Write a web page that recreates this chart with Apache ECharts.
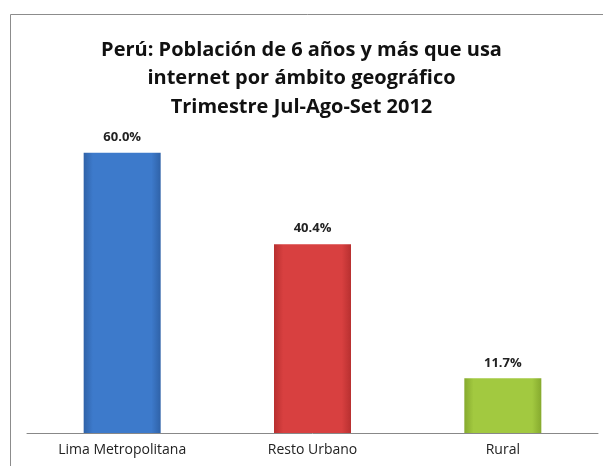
<!DOCTYPE html>
<html>
<head>
<meta charset="utf-8">
<script src="https://cdn.jsdelivr.net/npm/echarts@6/dist/echarts.min.js"></script>
<style>html,body{margin:0;padding:0;background:#fff;}#c{width:603px;height:466px;}</style>
</head>
<body>
<div id="c"></div>
<script>
const titleLines = ["Perú: Población de 6 años y más que usa", "internet por ámbito geográfico", "Trimestre Jul-Ago-Set 2012"];
const categories = ["Lima Metropolitana", "Resto Urbano", "Rural"];
const values = [60.0, 40.4, 11.7];
const barColors = [
  ["#2f62a8", "#3d7acb", "#2f62a8"],
  ["#b83030", "#d84040", "#b83030"],
  ["#86aa2e", "#a2c940", "#86aa2e"]
];

const chart = echarts.init(document.getElementById('c'), null, {renderer: 'canvas'});
function grad(c) {
  return new echarts.graphic.LinearGradient(0, 0, 1, 0, [
    {offset: 0, color: c[0]}, {offset: 0.12, color: c[1]}, {offset: 0.88, color: c[1]}, {offset: 1, color: c[2]}
  ]);
}
chart.setOption({
  animation: false,
  backgroundColor: '#fff',
  graphic: [{
    type: 'rect', left: 8, top: 12, shape: {width: 620, height: 480},
    style: {fill: 'none', stroke: '#8c8c8c', lineWidth: 1}
  }],
  title: {
    text: titleLines.join('\n'),
    left: 'center', top: 31,
    textStyle: {fontFamily: 'Open Sans', fontWeight: 'bold', fontSize: 20, lineHeight: 28.5, color: '#111'}
  },
  grid: {left: 27, right: 5, top: 106, bottom: 33},
  xAxis: {
    type: 'category', data: categories,
    axisLine: {lineStyle: {color: '#888'}},
    axisTick: {lineStyle: {color: '#888'}},
    axisLabel: {fontFamily: 'Open Sans', fontSize: 14, color: '#222', margin: 10}
  },
  yAxis: {type: 'value', min: 0, max: 70, show: false, splitLine: {show: false}},
  series: [{
    type: 'bar', barWidth: 77,
    data: values.map((v, i) => ({value: v, itemStyle: {color: grad(barColors[i])}})),
    label: {
      show: true, position: 'top', distance: 9,
      formatter: p => p.value.toFixed(1) + '%',
      fontFamily: 'Open Sans', fontWeight: 'bold', fontSize: 13, color: '#222'
    }
  }]
});
</script>
</body>
</html>
